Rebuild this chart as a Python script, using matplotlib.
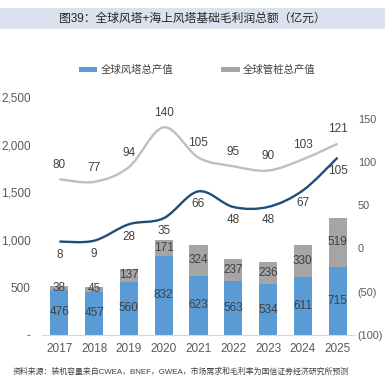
import matplotlib.pyplot as plt
from matplotlib.path import Path
from matplotlib.patches import PathPatch, Rectangle
import matplotlib.ticker as ticker

plt.rcParams['font.family'] = ['Liberation Sans', 'Noto Sans CJK SC', 'DejaVu Sans']

# ── data ─────────────────────────────────────────────────────────────────────
years = ["2017", "2018", "2019", "2020", "2021", "2022", "2023", "2024", "2025"]
tower_value = [476, 457, 560, 832, 623, 563, 534, 611, 715]      # 全球风塔总产值
pile_value = [38, 45, 137, 171, 324, 237, 236, 330, 519]         # 全球管桩总产值
tower_profit = [80, 77, 94, 140, 105, 95, 90, 103, 121]          # grey line (right axis)
pile_profit = [8, 9, 28, 35, 66, 48, 48, 67, 105]                # navy line (right axis)

left_ticks = [0, 500, 1000, 1500, 2000, 2500]
right_ticks = [-100, -50, 0, 50, 100, 150]

# ── colours ──────────────────────────────────────────────────────────────────
BLUE = "#5B9BD5"
GREY = "#A5A5A5"
NAVY = "#1F4E79"
LGREY = "#BFBFBF"
TXT = "#404040"
TICK = "#595959"
BAND = "#DCE1F0"


def smooth_path(xs, ys):
    # Excel-style smoothed line: cubic bezier, catmull-rom control points
    n = len(xs)
    verts = [(xs[0], ys[0])]
    codes = [Path.MOVETO]
    for i in range(n - 1):
        p0 = max(i - 1, 0)
        p3 = min(i + 2, n - 1)
        c1 = (xs[i] + (xs[i + 1] - xs[p0]) / 6, ys[i] + (ys[i + 1] - ys[p0]) / 6)
        c2 = (xs[i + 1] - (xs[p3] - xs[i]) / 6, ys[i + 1] - (ys[p3] - ys[i]) / 6)
        verts += [c1, c2, (xs[i + 1], ys[i + 1])]
        codes += [Path.CURVE4] * 3
    return Path(verts, codes)


fig = plt.figure(figsize=(3.85, 3.79), dpi=100)
ax = fig.add_axes([0.109, 0.116, 0.813, 0.628])
ax2 = ax.twinx()

x = list(range(len(years)))

# ── stacked bars ─────────────────────────────────────────────────────────────
ax.bar(x, tower_value, width=0.52, color=BLUE, zorder=2, label="全球风塔总产值")
ax.bar(x, pile_value, width=0.52, bottom=tower_value, color=GREY, zorder=2,
       label="全球管桩总产值")

for i in x:
    ax.text(i, tower_value[i] / 2, str(tower_value[i]), ha="center", va="center",
            fontsize=8.5, color=TXT, zorder=3)
    ax.text(i, tower_value[i] + pile_value[i] / 2, str(pile_value[i]),
            ha="center", va="center", fontsize=8.5, color=TXT, zorder=3)

ax.set_xlim(-0.5, len(years) - 0.5)
ax.set_ylim(0, 2500)
ax.set_xticks(x)
ax.set_xticklabels(years)
ax.set_yticks(left_ticks)
ax.yaxis.set_major_formatter(ticker.FuncFormatter(
    lambda v, p: "-" if v == 0 else f"{int(v):,}"))

# ── smoothed lines on the right axis ─────────────────────────────────────────
ax2.set_ylim(-100, 175)
ax2.set_yticks(right_ticks)
ax2.yaxis.set_major_formatter(ticker.FuncFormatter(
    lambda v, p: f"({int(-v)})" if v < 0 else f"{int(v)}"))

ax2.add_patch(PathPatch(smooth_path(x, tower_profit), fill=False,
                        edgecolor=LGREY, linewidth=1.7, zorder=3))
ax2.add_patch(PathPatch(smooth_path(x, pile_profit), fill=False,
                        edgecolor=NAVY, linewidth=1.7, zorder=3))

for i in x:
    ax2.annotate(str(tower_profit[i]), (i, tower_profit[i]), xytext=(0, 6),
                 textcoords="offset points", ha="center", va="bottom",
                 fontsize=8.5, color=TXT)
    ax2.annotate(str(pile_profit[i]), (i, pile_profit[i]), xytext=(0, -5),
                 textcoords="offset points", ha="center", va="top",
                 fontsize=8.5, color=TXT)

# ── axis styling ─────────────────────────────────────────────────────────────
for a in (ax, ax2):
    for s in ["top", "right", "left", "bottom"]:
        a.spines[s].set_visible(False)
ax.spines["bottom"].set_visible(True)
ax.spines["bottom"].set_color("#D9D9D9")
ax.tick_params(axis="both", length=0, labelsize=8.5, colors=TICK)
ax.tick_params(axis="y", pad=8)
ax.tick_params(axis="x", pad=6)
ax2.tick_params(axis="y", length=0, labelsize=7.8, colors=TICK, pad=2)

# ── legend ───────────────────────────────────────────────────────────────────
fig.legend(loc="center", bbox_to_anchor=(0.512, 0.815), ncol=2, frameon=False,
           fontsize=7.5, handlelength=1.8, handleheight=0.35, columnspacing=4.6,
           handletextpad=0.3, labelcolor=TXT)

# ── title band & source ──────────────────────────────────────────────────────
fig.add_artist(Rectangle((0, 0.924), 1, 0.054, transform=fig.transFigure,
                         facecolor=BAND, edgecolor="none"))
fig.text(0.5, 0.951, "图39：全球风塔+海上风塔基础毛利润总额（亿元）",
         ha="center", va="center", fontsize=8.5, color="#262626")
fig.text(0.034, 0.02,
         "资料来源：装机容量来自CWEA，BNEF，GWEA，市场需求和毛利率为国信证券经济研究所预测",
         ha="left", va="center", fontsize=5.7, color=TXT)

fig.savefig("out.png", dpi=100, facecolor="white")
